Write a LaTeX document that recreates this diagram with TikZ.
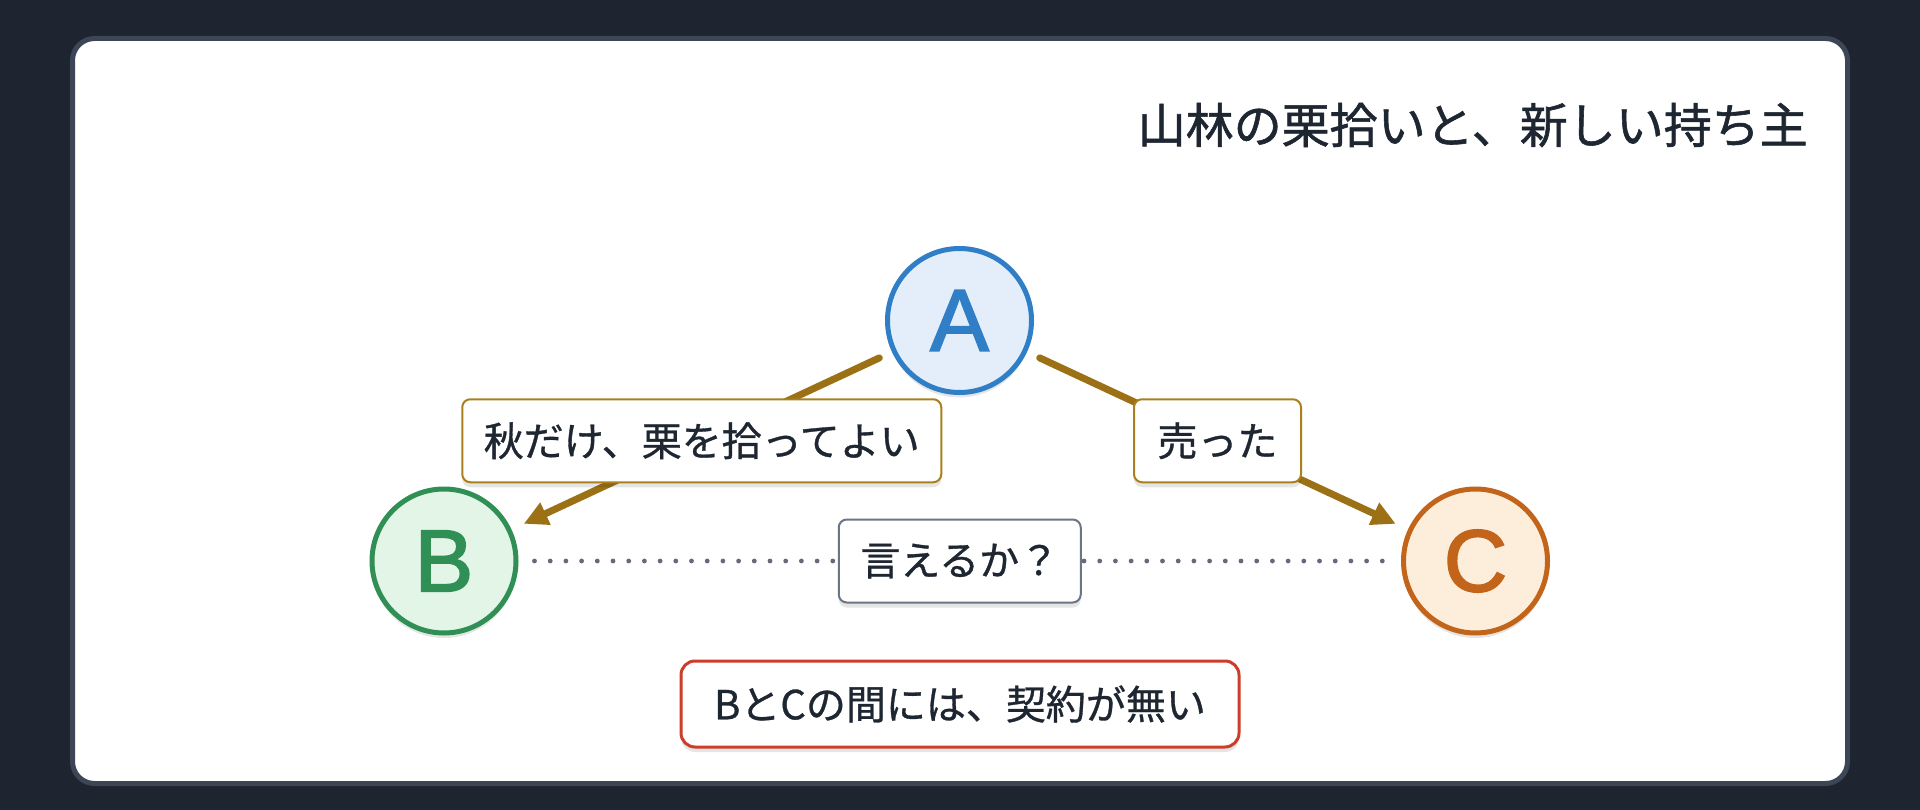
\documentclass[tikz,border=0pt]{standalone}
\usepackage{fontspec}
\setmainfont[FakeBold=0.8]{Noto Sans CJK JP}
\newfontfamily\latinfont[FakeBold=2]{Liberation Sans}
\newfontfamily\titlefont[FakeBold=1.2]{Noto Sans CJK JP}
\usetikzlibrary{arrows.meta,shadows}
\definecolor{bgdark}{HTML}{1E2430}
\definecolor{cardedge}{HTML}{3C4656}
\definecolor{ink}{HTML}{1E2632}
\definecolor{brown}{HTML}{9C7116}
\definecolor{brownedge}{HTML}{A8801F}
\definecolor{grayedge}{HTML}{6B7685}
\definecolor{dotgray}{HTML}{646B78}
\definecolor{rededge}{HTML}{CC3D2A}
\definecolor{Astroke}{HTML}{2F7EC6}
\definecolor{Afill}{HTML}{E4EEFA}
\definecolor{Bstroke}{HTML}{2F8F55}
\definecolor{Bfill}{HTML}{E3F5E7}
\definecolor{Cstroke}{HTML}{C2651A}
\definecolor{Cfill}{HTML}{FDEEDC}
\begin{document}
\begin{tikzpicture}[x=1pt,y=-1pt,
  softshadow/.style={drop shadow={shadow xshift=0pt,shadow yshift=-5pt,opacity=0.10,fill=black}},
  party/.style={circle,line width=5pt,minimum size=144pt,inner sep=0pt,
    font=\latinfont\fontsize{88}{88}\selectfont,softshadow},
  lab/.style={draw,fill=white,solid,rounded corners=8pt,line width=2pt,inner sep=0pt,
    text=ink,font=\fontsize{40}{40}\selectfont,softshadow},
  arr/.style={draw=brown,line width=7pt,line cap=round,
    -{Triangle[length=24pt,width=23pt]}},
  dots/.style={draw=dotgray,line width=4.8pt,line cap=round,dash pattern=on 0pt off 15.7pt}
]
\fill[bgdark] (0,0) rectangle (1920,810);
\useasboundingbox (0,0) rectangle (1920,810);
% card
\node[draw=cardedge,fill=white,line width=5pt,rounded corners=22pt,
  minimum width=1775pt,minimum height=745pt,inner sep=0pt] (card) at (960,411) {};
% title
\node[anchor=east,text=ink,inner sep=0pt,font=\titlefont\fontsize{48}{48}\selectfont]
  (title) at (1808,125) {山林の栗拾いと、新しい持ち主};
% parties
\node[party,draw=Astroke,fill=Afill,text=Astroke] (A) at (959.5,320.5) {A};
\node[party,draw=Bstroke,fill=Bfill,text=Bstroke] (B) at (444,561) {B};
\node[party,draw=Cstroke,fill=Cfill,text=Cstroke] (C) at (1475.5,561) {C};
% dotted relation
\draw[dots,shorten <=16pt,shorten >=16pt] (B) -- (C)
  node[lab,draw=grayedge,minimum width=242pt,minimum height=83pt,midway] (q) {言えるか？};
% arrows
\draw[arr,shorten <=14pt,shorten >=13.5pt] (A) -- (B)
  node[lab,draw=brownedge,minimum width=479pt,minimum height=83pt,midway] (lab1) {秋だけ、栗を拾ってよい};
\draw[arr,shorten <=14pt,shorten >=13.5pt] (A) -- (C)
  node[lab,draw=brownedge,minimum width=167pt,minimum height=83pt,midway] (lab2) {売った};
% note
\node[lab,draw=rededge,line width=3pt,rounded corners=14pt,minimum width=558pt,minimum height=86pt]
  (note) at (960,704) {BとCの間には、契約が無い};
\end{tikzpicture}
\end{document}
